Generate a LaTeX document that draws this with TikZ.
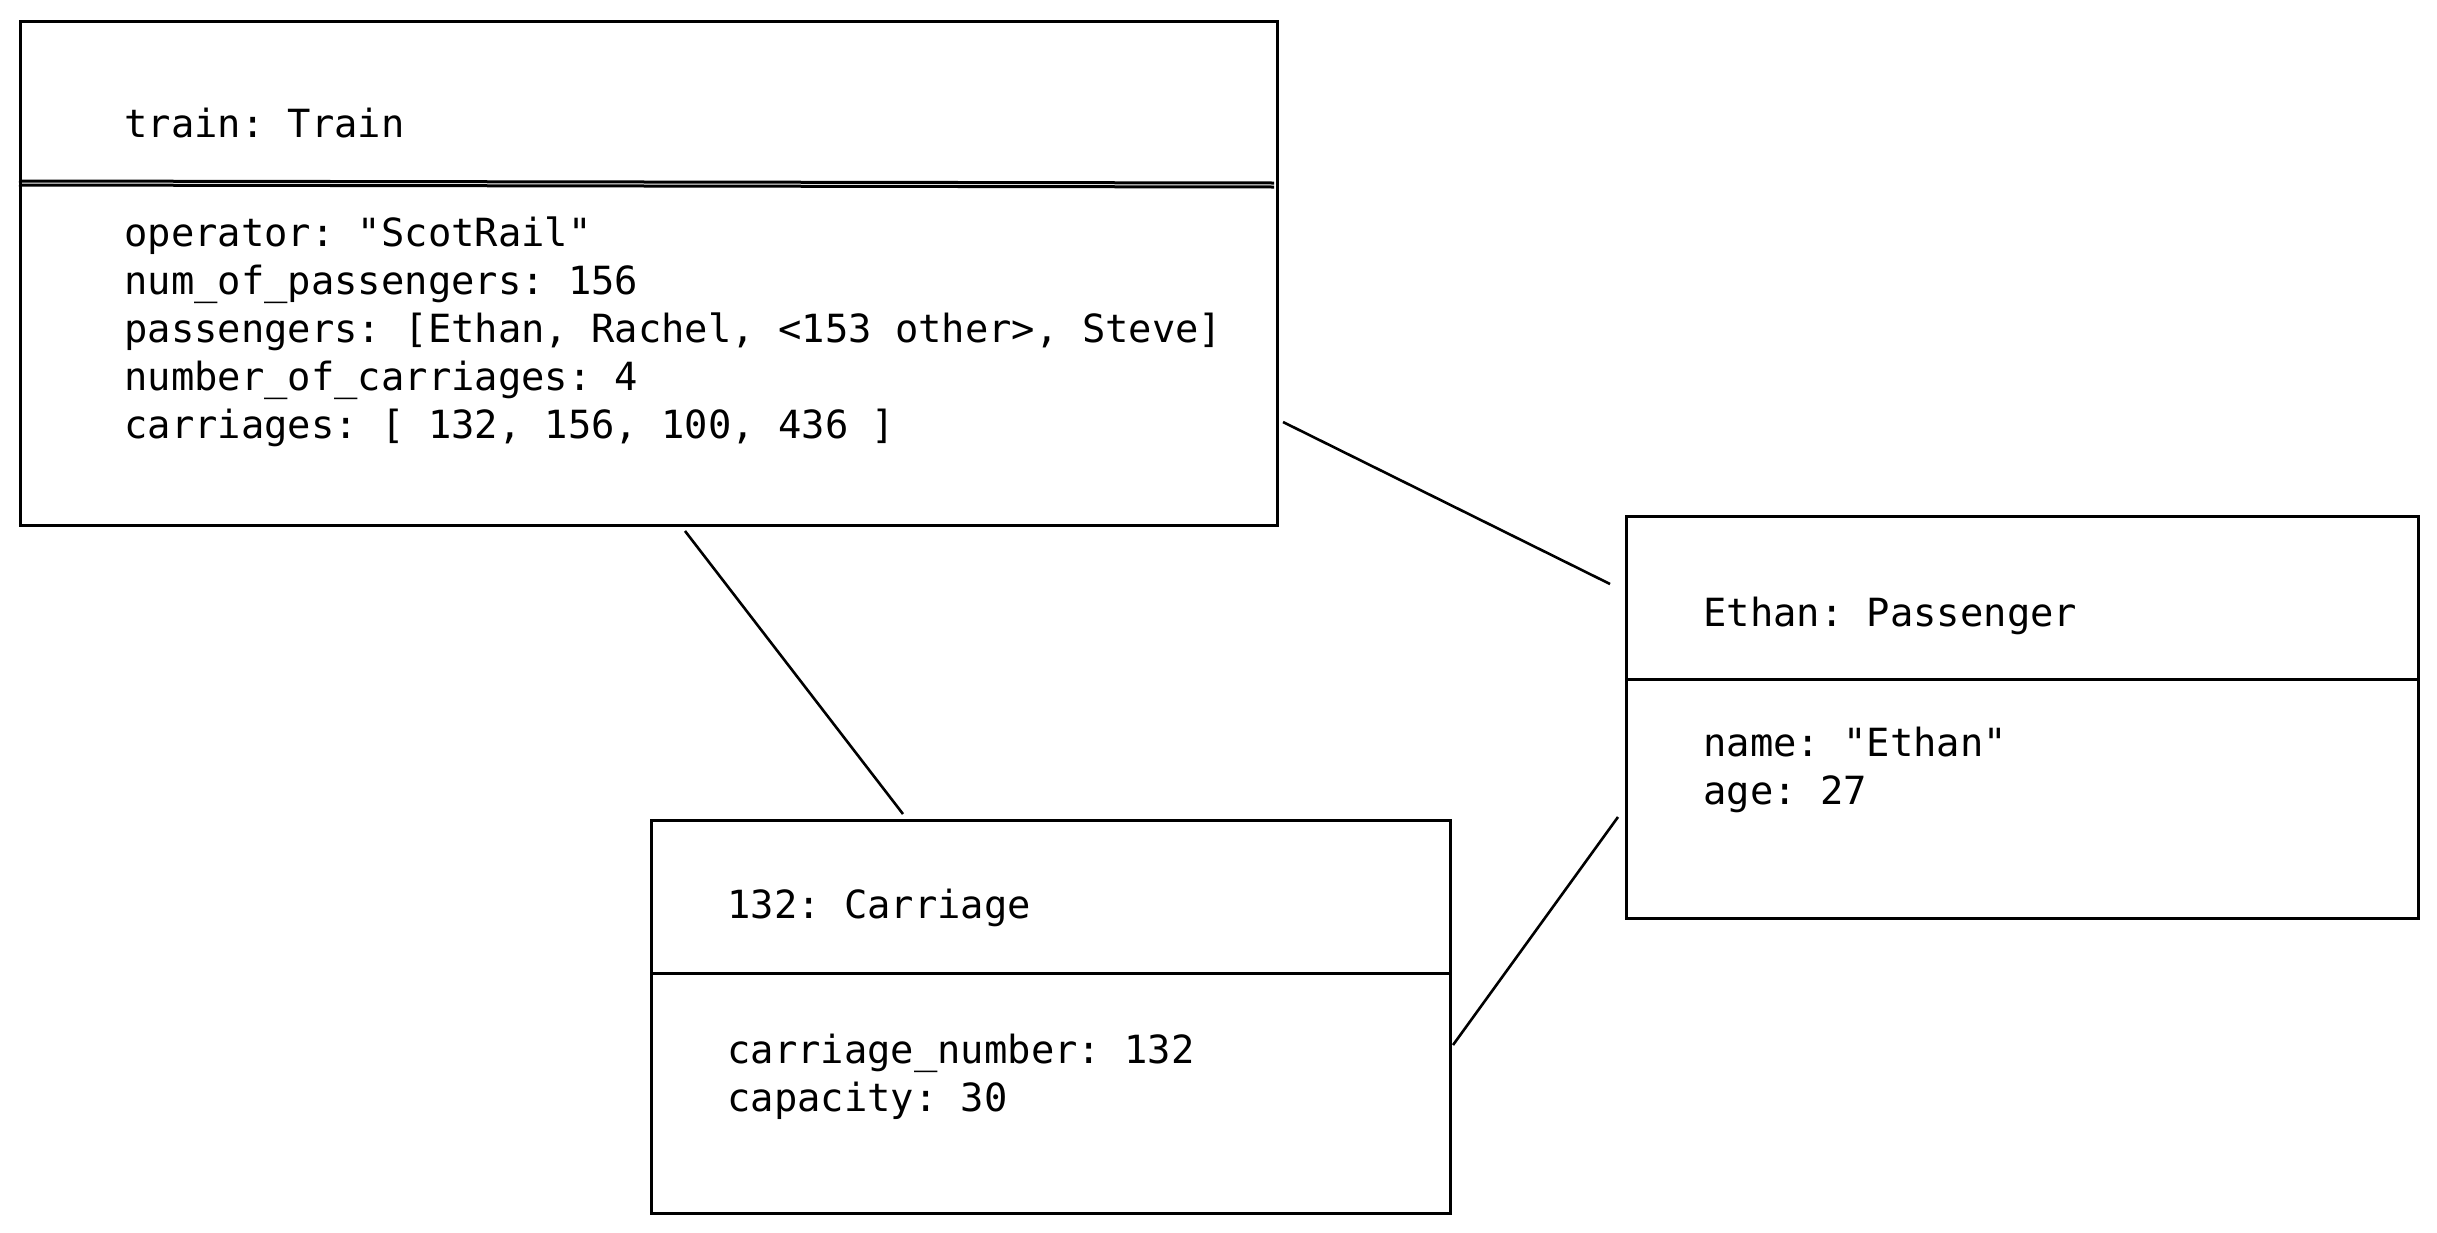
\documentclass[tikz,border=0pt]{standalone}
\usepackage{fontspec}
\newfontfamily\codefnt{DejaVu Sans Mono}
\newcommand\codefont{\codefnt\fontsize{19.4pt}{24pt}\selectfont\frenchspacing}
\begin{document}
\begin{tikzpicture}[x=0.5pt,y=-0.5pt,
  box/.style={draw, line width=1.5pt, inner sep=0pt, anchor=north west},
  divider/.style={line width=1.5pt},
  lbl/.style={anchor=base west, inner sep=0pt, font=\codefont},
  link/.style={line width=1.3pt}]
\useasboundingbox[fill=white] (0,0) rectangle (2437,1232);

% boxes
\node[box, minimum width=628.5pt, minimum height=252pt] (train) at (19,20) {};
\node[box, minimum width=399.5pt, minimum height=196.5pt] (carriage) at (650,819) {};
\node[box, minimum width=396pt, minimum height=201pt] (passenger) at (1625,515) {};

% dividers
\draw[divider] (19,181) -- (1274,183);
\draw[divider] (19,185) -- (1274,187);
\draw[divider] (650,973) -- (1449,973);
\draw[divider] (1625,679) -- (2417,679);

% train texts
\node[lbl] (t0) at (124,137) {train: Train};
\node[lbl] (t1) at (124,246) {operator: "ScotRail"};
\node[lbl] (t2) at (124,294) {num\_of\_passengers: 156};
\node[lbl] (t3) at (124,342) {passengers: [Ethan, Rachel, <153 other>, Steve]};
\node[lbl] (t4) at (124,390) {number\_of\_carriages: 4};
\node[lbl] (t5) at (124,438) {carriages: [ 132, 156, 100, 436 ]};

% carriage texts
\node[lbl] (c0) at (727,918) {132: Carriage};
\node[lbl] (c1) at (727,1063) {carriage\_number: 132};
\node[lbl] (c2) at (727,1111) {capacity: 30};

% passenger texts
\node[lbl] (p0) at (1703,626) {Ethan: Passenger};
\node[lbl] (p1) at (1703,756) {name: "Ethan"};
\node[lbl] (p2) at (1703,804) {age: 27};

% connector end points
\coordinate (tc1) at (685,531);
\coordinate (tc2) at (903,814);
\coordinate (tp1) at (1283,422);
\coordinate (tp2) at (1610,584);
\coordinate (cp1) at (1453,1045);
\coordinate (cp2) at (1618,817);

\draw[link] (tc1) -- (tc2);
\draw[link] (tp1) -- (tp2);
\draw[link] (cp1) -- (cp2);
\end{tikzpicture}
\end{document}
